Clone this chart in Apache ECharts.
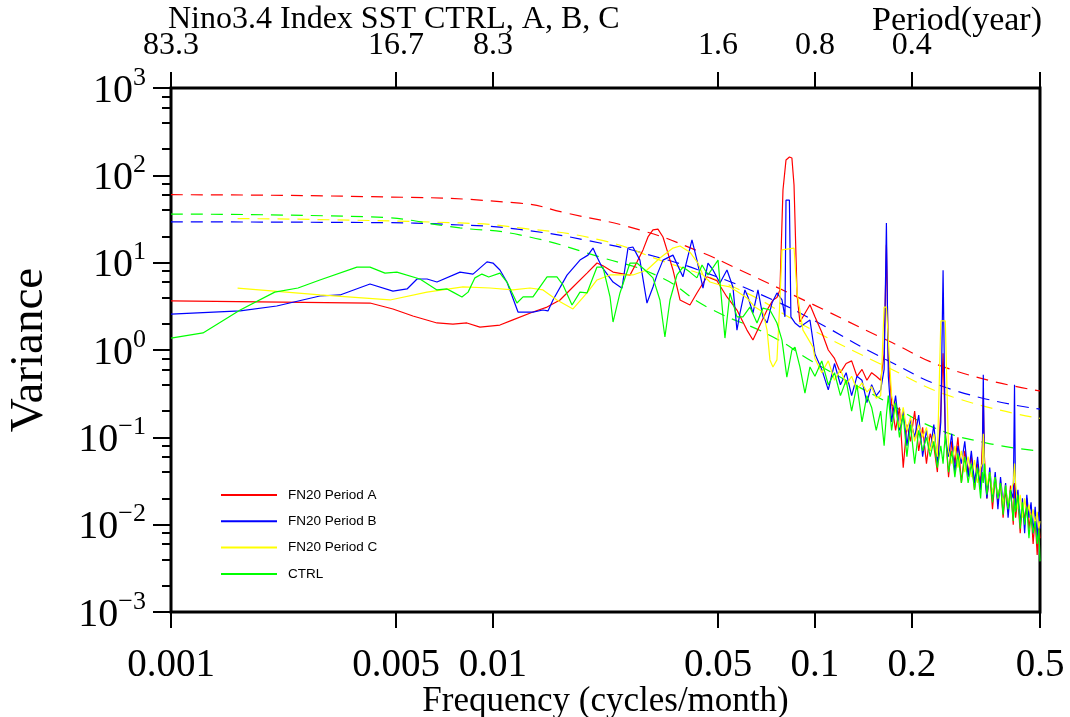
<!DOCTYPE html>
<html>
<head>
<meta charset="utf-8">
<title>Nino3.4 Index SST spectrum</title>
<script src="https://cdn.jsdelivr.net/npm/echarts@6/dist/echarts.min.js"></script>
<style>
  html, body { margin: 0; padding: 0; background: #fff; }
  #chart { width: 1070px; height: 717px; }
</style>
</head>
<body>
<div id="chart"></div>
<script>
// axis ticks
const freqTicks = [0.001, 0.005, 0.01, 0.05, 0.1, 0.2, 0.5];
const freqTickLabels = ['0.001', '0.005', '0.01', '0.05', '0.1', '0.2', '0.5'];
const periodTickLabels = ['83.3', '16.7', '8.3', '1.6', '0.8', '0.4', ''];
const varTicks = [0.001, 0.01, 0.1, 1, 10, 100, 1000];
const varTickExp = ['\u22123', '\u22122', '\u22121', '0', '1', '2', '3'];
const varMinorTicks = [0.002, 0.004, 0.006, 0.008, 0.02, 0.04, 0.06, 0.08, 0.2, 0.4, 0.6, 0.8,
  2, 4, 6, 8, 20, 40, 60, 80, 200, 400, 600, 800];

// FN20 Period A (red), low / mid frequencies
const freqA = [0.001, 0.00415, 0.00489, 0.00564, 0.0067, 0.00751, 0.0083, 0.00911, 0.01051, 0.01153,
  0.01331, 0.01472, 0.01615, 0.01772, 0.01959, 0.02104, 0.02196, 0.0236, 0.02664, 0.028,
  0.02924, 0.0303, 0.0314, 0.03254, 0.03373, 0.0347, 0.03623, 0.0381, 0.0409, 0.043,
  0.0462, 0.0496, 0.0533, 0.05725, 0.0615, 0.06418, 0.0675, 0.071, 0.07406, 0.0762,
  0.07785, 0.07956, 0.0813, 0.08333, 0.0848, 0.0861, 0.088, 0.0898, 0.0965];
const varA = [3.65, 3.45, 2.95, 2.45, 2.04, 1.98, 2.04, 1.83, 1.93, 2.21,
  2.72, 3.1, 3.74, 5.27, 7.6, 9.9, 9.2, 7.8, 7.2, 10.2,
  14, 19.7, 23.7, 24.2, 19.7, 14, 8.25, 3.74, 3.28, 4.5,
  6.9, 6.2, 4.05, 2.87, 1.69, 1.3, 1.93, 2.87, 3.74, 4.0,
  4.87, 68, 150, 162, 158, 77.6, 4.27, 2.09, 3.3];

// FN20 Period B (blue)
const freqB = [0.001, 0.00164, 0.00213, 0.0029, 0.00335, 0.00415, 0.00489, 0.00541, 0.00581, 0.00624,
  0.0067, 0.0079, 0.00867, 0.00958, 0.01, 0.01051, 0.01105, 0.01196, 0.01331, 0.0143,
  0.01482, 0.01536, 0.01698, 0.01863, 0.01973, 0.02045, 0.02104, 0.0218, 0.0236, 0.02516,
  0.02626, 0.0272, 0.0286, 0.03008, 0.0314, 0.0323, 0.03373, 0.03623, 0.0389, 0.0415,
  0.043, 0.0449, 0.04653, 0.04823, 0.0507, 0.0533, 0.05563, 0.05725, 0.0585, 0.0606,
  0.06194, 0.06418, 0.06653, 0.06895, 0.071, 0.07354, 0.0762, 0.079, 0.0807, 0.0813,
  0.0833, 0.0842, 0.0867, 0.0898, 0.0965];
const varB = [2.58, 2.8, 3.19, 4.15, 4.27, 5.7, 4.73, 5.0, 6.5, 6.5,
  6.0, 7.8, 7.4, 10.2, 9.9, 8.25, 6.0, 2.72, 2.72, 2.87,
  2.8, 3.74, 7.2, 10.7, 12.2, 14.7, 11.6, 8.9, 6.0, 5.1,
  14.7, 15.1, 10.7, 3.45, 5.27, 7.2, 10.7, 12.2, 6.9, 18.2,
  10.7, 5.1, 9.9, 8.25, 5.85, 8.25, 5.27, 1.69, 2.65, 4.87,
  4.05, 2.65, 4.87, 2.39, 2.04, 3.45, 4.5, 3.74, 2.39, 52,
  52, 2.39, 2.04, 1.83, 2.2];

// FN20 Period C (yellow)
const freqC = [0.00161, 0.0029, 0.00479, 0.00624, 0.00807, 0.00979, 0.01153, 0.01303, 0.0143, 0.0158,
  0.01772, 0.01959, 0.02104, 0.0231, 0.0272, 0.03008, 0.033, 0.03623, 0.0381, 0.0409,
  0.0433, 0.0449, 0.0472, 0.0507, 0.05445, 0.05766, 0.0615, 0.0651, 0.06895, 0.071,
  0.07248, 0.07406, 0.0762, 0.07785, 0.079, 0.0861, 0.088, 0.0918, 0.0986];
const varC = [5.1, 4.27, 3.74, 4.6, 5.27, 5.13, 4.87, 5.13, 4.87, 3.74,
  2.95, 4.5, 6.34, 7.23, 7.23, 8.25, 11.3, 14.7, 15.5, 13.2,
  9.9, 7.23, 6.0, 5.55, 5.27, 4.6, 3.94, 3.1, 2.72, 1.69,
  0.77, 0.64, 0.77, 3.74, 14, 14.7, 4.5, 1.69, 1.08];

// CTRL (green)
const freqCtrl = [0.001, 0.001257, 0.00164, 0.0021, 0.00248, 0.0029, 0.00378, 0.00415, 0.00462, 0.00503,
  0.00593, 0.0067, 0.0072, 0.00751, 0.00801, 0.00837, 0.00879, 0.00924, 0.0097, 0.01051,
  0.01105, 0.01187, 0.0124, 0.01331, 0.01472, 0.0158, 0.0165, 0.0176, 0.01863, 0.01959,
  0.02104, 0.02196, 0.0231, 0.0236, 0.0248, 0.02664, 0.028, 0.02965, 0.0314, 0.033,
  0.0342, 0.03546, 0.03728, 0.0389, 0.0409, 0.043, 0.0446, 0.04653, 0.05, 0.05254,
  0.05445, 0.05725, 0.05975, 0.0628, 0.06607, 0.06895, 0.07248, 0.0762, 0.079, 0.0818,
  0.0848, 0.0867, 0.0898, 0.0931, 0.0965];
const varCtrl = [1.37, 1.57, 2.87, 4.6, 5.13, 6.34, 8.9, 8.9, 7.6, 7.8,
  6.5, 4.87, 5.0, 4.6, 4.05, 4.6, 6.7, 7.4, 6.86, 7.6,
  6.0, 3.45, 4.05, 4.05, 6.86, 6.86, 5.55, 3.28, 4.6, 4.5,
  8.9, 8.9, 4.05, 2.09, 4.5, 9.9, 9.9, 8.25, 6.7, 3.74,
  1.41, 3.74, 7.23, 8.9, 7.8, 6.7, 9.4, 7.23, 10.7, 1.37,
  4.5, 2.39, 2.39, 3.1, 2.04, 3.02, 2.87, 2.04, 1.3, 0.49,
  1.0, 1.08, 0.64, 0.32, 0.64];

// high frequencies (0.1 - 0.5), shared by the four runs
const freqHigh = [0.1, 0.105, 0.11, 0.115, 0.12, 0.125, 0.13, 0.135, 0.14, 0.145,
  0.15, 0.155, 0.16, 0.164, 0.1667, 0.169, 0.173, 0.178, 0.183, 0.188,
  0.193, 0.198, 0.204, 0.21, 0.216, 0.222, 0.228, 0.234, 0.24, 0.246,
  0.25, 0.254, 0.26, 0.266, 0.272, 0.278, 0.285, 0.292, 0.299, 0.306,
  0.313, 0.32, 0.327, 0.331, 0.3333, 0.336, 0.342, 0.349, 0.356, 0.363,
  0.37, 0.377, 0.384, 0.391, 0.398, 0.405, 0.413, 0.4167, 0.42, 0.427,
  0.434, 0.441, 0.448, 0.455, 0.462, 0.469, 0.476, 0.483, 0.49, 0.496, 0.5];
const varAHigh = [2.4, 1.6, 1.0, 0.8, 0.55, 0.7, 0.75, 0.5, 0.6, 0.45,
  0.55, 0.5, 0.45, 0.9, 16, 0.8, 0.25, 0.12, 0.22, 0.045,
  0.14, 0.09, 0.2, 0.07, 0.13, 0.05, 0.11, 0.08, 0.04, 0.2,
  0.92, 0.12, 0.035, 0.09, 0.05, 0.1, 0.03, 0.07, 0.04, 0.06,
  0.025, 0.05, 0.03, 0.08, 0.3, 0.06, 0.02, 0.04, 0.015, 0.035,
  0.018, 0.03, 0.012, 0.025, 0.014, 0.028, 0.01, 0.03, 0.012, 0.02,
  0.008, 0.018, 0.011, 0.02, 0.009, 0.014, 0.006, 0.012, 0.0045, 0.01, 0.007];
const varBHigh = [0.9, 0.6, 0.35, 0.7, 0.4, 0.55, 0.3, 0.5, 0.45, 0.25,
  0.4, 0.3, 0.35, 0.6, 28.5, 0.5, 0.15, 0.3, 0.12, 0.2,
  0.08, 0.16, 0.1, 0.18, 0.06, 0.12, 0.07, 0.14, 0.05, 0.15,
  8.2, 0.1, 0.06, 0.11, 0.04, 0.08, 0.05, 0.09, 0.035, 0.07,
  0.03, 0.06, 0.025, 0.05, 0.52, 0.04, 0.02, 0.045, 0.02, 0.04,
  0.015, 0.035, 0.018, 0.03, 0.012, 0.025, 0.02, 0.4, 0.015, 0.025,
  0.01, 0.02, 0.008, 0.022, 0.012, 0.018, 0.008, 0.016, 0.007, 0.014, 0.009];
const varCHigh = [0.8, 0.55, 0.75, 0.45, 0.6, 0.4, 0.5, 0.35, 0.42, 0.33,
  0.38, 0.28, 0.3, 3.1, 3.1, 3.1, 0.3, 0.2, 0.13, 0.22,
  0.12, 0.17, 0.09, 0.14, 0.1, 0.13, 0.07, 0.11, 0.06, 2.15,
  2.15, 2.15, 0.07, 0.05, 0.08, 0.045, 0.07, 0.04, 0.06, 0.035,
  0.055, 0.03, 0.045, 0.05, 0.11, 0.05, 0.028, 0.04, 0.022, 0.035,
  0.02, 0.03, 0.017, 0.028, 0.016, 0.024, 0.03, 0.05, 0.03, 0.015,
  0.022, 0.012, 0.02, 0.013, 0.017, 0.011, 0.015, 0.01, 0.014, 0.009, 0.011];
const varCtrlHigh = [0.5, 0.75, 0.4, 0.55, 0.3, 0.45, 0.2, 0.4, 0.15, 0.3,
  0.22, 0.12, 0.2, 0.08, 0.18, 0.3, 0.12, 0.25, 0.1, 0.18,
  0.06, 0.14, 0.05, 0.12, 0.07, 0.1, 0.06, 0.09, 0.045, 0.08,
  0.05, 0.11, 0.04, 0.07, 0.035, 0.065, 0.03, 0.06, 0.03, 0.05,
  0.025, 0.045, 0.02, 0.04, 0.03, 0.05, 0.022, 0.04, 0.018, 0.035,
  0.02, 0.03, 0.013, 0.028, 0.015, 0.025, 0.011, 0.02, 0.014, 0.022,
  0.009, 0.018, 0.01, 0.016, 0.007, 0.013, 0.008, 0.011, 0.006, 0.009, 0.0038];

// red-noise fits (dashed)
const freqFitA = [0.001, 0.0041, 0.0121, 0.0169, 0.0286, 0.044, 0.0585, 0.0965, 0.167, 0.268, 0.5];
const fitA = [60, 57, 48, 37, 23.7, 13.3, 8.25, 3.45, 1.3, 0.59, 0.34];
const freqFitB = [0.001, 0.0041, 0.0079, 0.0121, 0.0215, 0.0323, 0.0462, 0.0741, 0.0986, 0.167, 0.268, 0.5];
const fitB = [29.3, 28.8, 27, 24, 16.8, 11.6, 7.6, 3.74, 2.21, 0.77, 0.35, 0.21];
const freqFitC = [0.00161, 0.0079, 0.0121, 0.0215, 0.033, 0.0585, 0.0944, 0.167, 0.268, 0.5];
const fitC = [32, 28.5, 25, 18.2, 10.7, 4.87, 1.83, 0.64, 0.29, 0.165];
const freqFitCtrl = [0.001, 0.0041, 0.0079, 0.0121, 0.0215, 0.033, 0.0462, 0.0741, 0.0986, 0.163, 0.232, 0.342, 0.5];
const fitCtrl = [36, 33.5, 25, 20.8, 11.6, 6.86, 3.11, 1.41, 0.73, 0.267, 0.131, 0.086, 0.0697];

const serif = 'Liberation Serif';
const zip = (fs, vs) => fs.map((f, i) => [f, vs[i]]);
// index of the tick closest to v (log distance)
const nearest = (ticks, v) => {
  let best = 0;
  ticks.forEach((t, i) => {
    if (Math.abs(Math.log(t / v)) < Math.abs(Math.log(ticks[best] / v))) best = i;
  });
  return best;
};

const solid = (name, color, fs, vs, vsHigh) => ({
  name: name,
  type: 'line',
  symbol: 'none',
  data: zip(fs, vs).concat(zip(freqHigh, vsHigh)),
  lineStyle: { color: color, width: 1.2 },
  itemStyle: { color: color },
  z: 3
});
const dashed = (name, color, fs, vs) => ({
  name: name,
  type: 'line',
  symbol: 'none',
  smooth: true,
  data: zip(fs, vs),
  lineStyle: { color: color, width: 1.2, type: [12, 8] },
  itemStyle: { color: color },
  z: 2
});

const chart = echarts.init(document.getElementById('chart'));
const option = {
  animation: false,
  backgroundColor: '#fff',
  title: [
    { text: 'Nino3.4 Index SST CTRL, A, B, C', left: 168, top: 4, padding: 0,
      textStyle: { fontFamily: serif, fontSize: 32, fontWeight: 'normal', color: '#000' } },
    { text: 'Period(year)', right: 28, top: 4, padding: 0,
      textStyle: { fontFamily: serif, fontSize: 34, fontWeight: 'normal', color: '#000' } }
  ],
  legend: {
    data: ['FN20 Period A', 'FN20 Period B', 'FN20 Period C', 'CTRL'],
    orient: 'vertical',
    left: 221,
    top: 488,
    icon: 'rect',
    itemWidth: 56,
    itemHeight: 2,
    itemGap: 12.3,
    padding: 0,
    textStyle: { fontFamily: 'Liberation Sans', fontSize: 13.5, color: '#000', padding: [0, 0, 0, 6] }
  },
  grid: {
    left: 171, top: 88, width: 869, height: 524,
    containLabel: false, outerBoundsMode: 'none',
    show: true, borderColor: '#000', borderWidth: 3
  },
  xAxis: [
    {
      type: 'log', min: 0.001, max: 0.5, position: 'bottom',
      axisLine: { show: false },
      splitLine: { show: false },
      axisTick: { show: true, length: 16, lineStyle: { color: '#000', width: 2 }, customValues: freqTicks },
      axisLabel: {
        customValues: freqTicks, margin: 34, fontFamily: serif, fontSize: 39, color: '#000',
        formatter: v => freqTickLabels[nearest(freqTicks, v)]
      },
      name: 'Frequency (cycles/month)', nameLocation: 'middle', nameGap: 72, nameMoveOverlap: false,
      nameTextStyle: { fontFamily: serif, fontSize: 35, color: '#000' }
    },
    {
      type: 'log', min: 0.001, max: 0.5, position: 'top',
      axisLine: { show: false },
      splitLine: { show: false },
      axisTick: { show: true, length: 16, lineStyle: { color: '#000', width: 2 }, customValues: freqTicks },
      axisLabel: {
        customValues: freqTicks, margin: 26, fontFamily: serif, fontSize: 32, color: '#000',
        formatter: v => periodTickLabels[nearest(freqTicks, v)]
      }
    }
  ],
  yAxis: [
    {
      type: 'log', min: 0.001, max: 1000, position: 'left',
      axisLine: { show: false },
      splitLine: { show: false },
      axisTick: { show: true, length: 18, lineStyle: { color: '#000', width: 2 }, customValues: varTicks },
      axisLabel: {
        customValues: varTicks, margin: 25,
        formatter: v => '{b|10}{e|' + varTickExp[nearest(varTicks, v)] + '}',
        rich: {
          b: { fontFamily: serif, fontSize: 40, color: '#000', lineHeight: 46, verticalAlign: 'bottom' },
          e: { fontFamily: serif, fontSize: 26, color: '#000', verticalAlign: 'top' }
        }
      },
      name: 'Variance', nameLocation: 'middle', nameGap: 118, nameRotate: 90, nameMoveOverlap: false,
      nameTextStyle: { fontFamily: serif, fontSize: 47, color: '#000' }
    },
    {
      type: 'log', min: 0.001, max: 1000, position: 'left', offset: 0,
      axisLine: { show: false },
      splitLine: { show: false },
      axisLabel: { show: false },
      axisTick: { show: true, length: 9, lineStyle: { color: '#000', width: 2 }, customValues: varMinorTicks }
    }
  ],
  series: [
    dashed('fit A', '#ff0000', freqFitA, fitA),
    dashed('fit B', '#0000ff', freqFitB, fitB),
    dashed('fit C', '#ffff00', freqFitC, fitC),
    dashed('fit CTRL', '#00ff00', freqFitCtrl, fitCtrl),
    solid('FN20 Period A', '#ff0000', freqA, varA, varAHigh),
    solid('FN20 Period B', '#0000ff', freqB, varB, varBHigh),
    solid('FN20 Period C', '#ffff00', freqC, varC, varCHigh),
    solid('CTRL', '#00ff00', freqCtrl, varCtrl, varCtrlHigh)
  ]
};
chart.setOption(option);
</script>
</body>
</html>
